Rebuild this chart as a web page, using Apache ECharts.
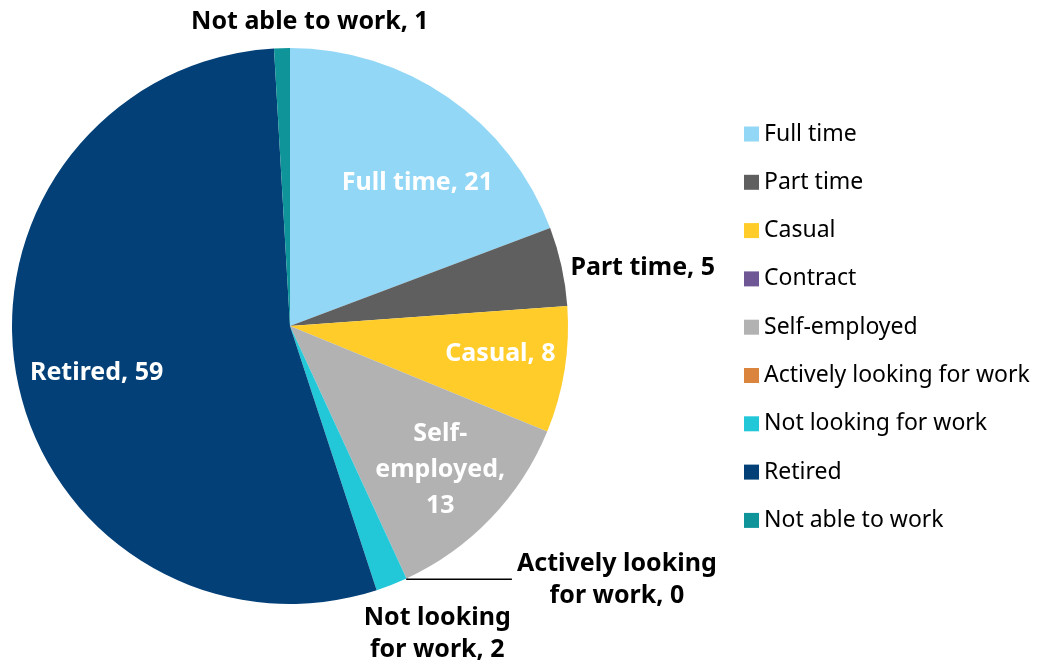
<!DOCTYPE html>
<html>
<head>
<meta charset="utf-8">
<script src="https://cdn.jsdelivr.net/npm/echarts@6/dist/echarts.min.js"></script>
<style>
  html, body { margin: 0; padding: 0; background: #fff; }
  #chart { width: 1042px; height: 669px; }
</style>
</head>
<body>
<div id="chart"></div>
<script>
// categories and values
const categories = ['Full time', 'Part time', 'Casual', 'Contract', 'Self-employed',
  'Actively looking for work', 'Not looking for work', 'Retired', 'Not able to work']
const counts = [21, 5, 8, 0, 13, 0, 2, 59, 1]
const colors = ['#92D7F5', '#5F5F5F', '#FFCC29', '#6F5694', '#B2B2B2',
  '#DA843E', '#22C7D8', '#034078', '#0E9499']

// which slices get their label inside (white) vs outside (black)
const insideIdx = [0, 2, 4, 7]
const hiddenIdx = [3]

const FONT = '"Noto Sans", sans-serif'
const CENTER = [290, 326]
const RADIUS = 278

// label text; some wrap like the original
function labelText(i) {
  if (i === 4) return 'Self-\nemployed,\n' + counts[i]
  if (i === 5) return 'Actively looking\nfor work, ' + counts[i]
  if (i === 6) return 'Not looking\nfor work, ' + counts[i]
  return categories[i] + ', ' + counts[i]
}

// nudges so labels sit where the original puts them
const outsideShift = {
  1: { dx: 0, dy: 2 },
  5: { dx: 100, dy: 1, align: 'center' },
  6: { dx: 39, dy: 45, align: 'center' },
  8: { dx: 33, dy: -22, align: 'center' }
}
const insideShift = {
  0: { dx: 9, dy: 28 },
  2: { dx: 5, dy: -5 },
  7: { dx: 11, dy: 8 }
}

const myChart = echarts.init(document.getElementById('chart'), null, { renderer: 'canvas' })

const mainData = categories.map((name, i) => {
  const outside = !insideIdx.includes(i) && !hiddenIdx.includes(i)
  return {
    name,
    value: counts[i],
    itemStyle: { color: colors[i] },
    label: { show: outside },
    labelLine: i === 5
      ? { show: true, length: 1, length2: 105 }
      : { show: false, length: 4, length2: 0 }
  }
})

// transparent ring used only to carry the inner labels further out
const innerData = categories.map((name, i) => ({
  name,
  value: counts[i],
  label: { show: insideIdx.includes(i) }
}))

myChart.setOption({
  animation: false,
  backgroundColor: '#ffffff',
  legend: {
    orient: 'vertical',
    left: 744,
    top: 122,
    padding: 0,
    itemWidth: 15,
    itemHeight: 15,
    itemGap: 24.3,
    icon: 'rect',
    data: categories,
    textStyle: {
      fontFamily: FONT,
      fontSize: 23,
      color: '#000',
      lineHeight: 24
    },
    selectedMode: false
  },
  series: [
    {
      type: 'pie',
      name: 'main',
      center: CENTER,
      radius: [0, RADIUS],
      startAngle: 90,
      clockwise: true,
      avoidLabelOverlap: false,
      silent: true,
      itemStyle: { borderWidth: 0 },
      label: {
        position: 'outside',
        formatter: p => labelText(p.dataIndex),
        fontFamily: FONT,
        fontWeight: 'bold',
        fontSize: 25,
        color: '#000',
        lineHeight: 32
      },
      labelLine: {
        smooth: false,
        lineStyle: { color: '#000', width: 1.5 }
      },
      labelLayout: p => outsideShift[p.dataIndex] || {},
      data: mainData
    },
    {
      type: 'pie',
      name: 'labels',
      center: CENTER,
      radius: [0, 410],
      startAngle: 90,
      clockwise: true,
      silent: true,
      avoidLabelOverlap: false,
      itemStyle: { color: 'rgba(0,0,0,0)' },
      label: {
        position: 'inside',
        formatter: p => labelText(p.dataIndex),
        fontFamily: FONT,
        fontWeight: 'bold',
        fontSize: 25,
        color: '#fff',
        lineHeight: 36
      },
      labelLine: { show: false },
      labelLayout: p => insideShift[p.dataIndex] || {},
      data: innerData,
      z: 3
    }
  ]
})
</script>
</body>
</html>
